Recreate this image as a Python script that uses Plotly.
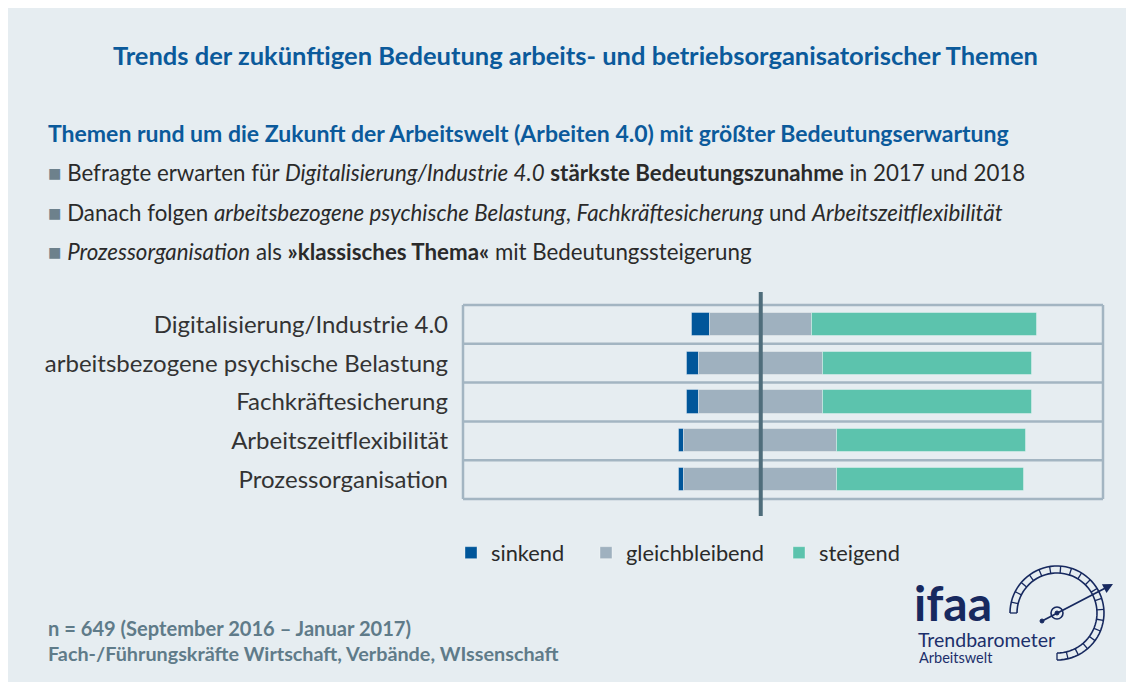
import numpy as np
import plotly.graph_objects as go

# ---------------- data ----------------
themen = [
    "Digitalisierung/Industrie 4.0",
    "arbeitsbezogene psychische Belastung",
    "Fachkräftesicherung",
    "Arbeitszeitflexibilität",
    "Prozessorganisation",
]
sinkend = [5.0, 3.6, 3.6, 1.6, 1.6]
gleichbleibend = [29.6, 35.8, 35.8, 44.3, 44.4]
steigend = [65.3, 60.6, 60.6, 54.6, 54.1]
serien = ["sinkend", "gleichbleibend", "steigend"]
farben = ["#00569a", "#9fb1bf", "#5cc3ad"]

# ---------------- geometry helpers (decoration only) ----------------
W, H = 1134, 682
OFF = 8  # page body margin compensation
L, R, T, B = 463, 1103, 305, 499
XMIN, XMAX = -86.3, 99.2


def px(x):
    return (x - L) / (R - L)


def py(y):
    return (B - y) / (B - T)


FONT = "Lato"
BG = "#e6edf1"

s = np.array(sinkend)
g = np.array(gleichbleibend)
t = np.array(steigend)
n = len(themen)
ypos = list(range(n))

fig = go.Figure()
bases = [-(s + g / 2), -g / 2, g / 2]
vals = [s, g, t]
legends = ["legend", "legend2", "legend3"]
for name, col, v, b, lg in zip(serien, farben, vals, bases, legends):
    fig.add_trace(go.Bar(
        y=ypos, x=v, base=b, orientation="h", name=name, legend=lg,
        marker=dict(color=col, line=dict(color="rgba(255,255,255,0.35)", width=1)),
        width=0.6,
    ))

shapes = []
# panel background (first so it lies beneath everything)
shapes.append(dict(type="rect", xref="paper", yref="paper", x0=px(0), x1=px(W + OFF), y0=py(11), y1=py(H + OFF),
                   fillcolor=BG, line=dict(width=0), layer="below"))
frame_col = "#a3b5c2"
for i in range(n + 1):
    shapes.append(dict(type="line", xref="paper", yref="paper", x0=0, x1=1,
                       y0=i / n, y1=i / n, line=dict(color=frame_col, width=2.5), layer="below"))
for xx in (0, 1):
    shapes.append(dict(type="line", xref="paper", yref="paper", x0=xx, x1=xx,
                       y0=0, y1=1, line=dict(color=frame_col, width=2.5), layer="below"))
# centre reference line at value 0
x_zero = (0 - XMIN) / (XMAX - XMIN)
shapes.append(dict(type="line", xref="paper", yref="paper", x0=x_zero, x1=x_zero, y0=py(292), y1=py(516),
                   line=dict(color="#4f6d7b", width=4), layer="above"))

# ---- logo gauge ----
navy = "#17295f"
cx, cy = 1057, 613
r_in, r_out = 40, 47
ang = np.radians(np.linspace(180, -90, 60))


def arc_path(r):
    pts = [(px(cx + r * np.cos(a)), py(cy - r * np.sin(a))) for a in ang]
    return "M " + " L ".join(f"{a:.5f},{b:.5f}" for a, b in pts)


for rr in (r_in, r_out):
    shapes.append(dict(type="path", xref="paper", yref="paper", path=arc_path(rr),
                       line=dict(color=navy, width=1.6)))
for a in np.radians(np.arange(180, -91, -13.5)):
    shapes.append(dict(type="line", xref="paper", yref="paper",
                       x0=px(cx + r_in * np.cos(a)), y0=py(cy - r_in * np.sin(a)),
                       x1=px(cx + r_out * np.cos(a)), y1=py(cy - r_out * np.sin(a)),
                       line=dict(color=navy, width=1.3)))
shapes.append(dict(type="circle", xref="paper", yref="paper",
                   x0=px(cx - 6), x1=px(cx + 6), y0=py(cy + 6), y1=py(cy - 6),
                   line=dict(color=navy, width=1.6)))
shapes.append(dict(type="circle", xref="paper", yref="paper",
                   x0=px(cx - 2), x1=px(cx + 2), y0=py(cy + 2), y1=py(cy - 2),
                   fillcolor=navy, line=dict(color=navy, width=1)))
shapes.append(dict(type="circle", xref="paper", yref="paper",
                   x0=px(1040), x1=px(1044), y0=py(623), y1=py(619),
                   fillcolor=navy, line=dict(color=navy, width=1)))

ann = []


def txt(text, x, y, size, color, xanchor="left", bold=False, yanchor="middle"):
    ann.append(dict(text=f"<b>{text}</b>" if bold else text, x=px(x), y=py(y), xref="paper", yref="paper",
                    showarrow=False, xanchor=xanchor, yanchor=yanchor,
                    font=dict(family=FONT, size=size, color=color)))


title_col = "#0b5a9b"
txt("Trends der zukünftigen Bedeutung arbeits- und betriebsorganisatorischer Themen", 575, 55, 25.5, title_col,
    xanchor="center", bold=True)
txt("Themen rund um die Zukunft der Arbeitswelt (Arbeiten 4.0) mit größter Bedeutungserwartung", 46, 133, 23.0,
    title_col, bold=True)
bul = "<span style='color:#6d818c'>■</span> "
txt(bul + "Befragte erwarten für <i>Digitalisierung/Industrie 4.0</i> <b>stärkste Bedeutungszunahme</b> in 2017 und 2018",
    46, 172, 22.3, "#2a2a2a")
txt(bul + "Danach folgen <i>arbeitsbezogene psychische Belastung</i>, <i>Fachkräftesicherung</i> und <i>Arbeitszeitflexibilität</i>",
    46, 212, 22.3, "#2a2a2a")
txt(bul + "<i>Prozessorganisation</i> als <b>»klassisches Thema«</b> mit Bedeutungssteigerung",
    46, 251, 22.3, "#2a2a2a")
foot_col = "#5f7b89"
txt("n = 649 (September 2016 – Januar 2017)", 46, 628, 20.1, foot_col, bold=True)
txt("Fach-/Führungskräfte Wirtschaft, Verbände, WIssenschaft", 46, 653, 19.8, foot_col, bold=True)

# logo text
txt("ifaa", 912, 602, 48, navy, bold=True)
txt("Trendbarometer", 916, 639, 19.5, "#1c2f6b")
txt("Arbeitswelt", 917, 657, 14.5, "#1c2f6b")
# needle
ann.append(dict(x=px(1113), y=py(584), xref="paper", yref="paper", ax=1042 - 1113, ay=621 - 584,
                text="", showarrow=True, arrowhead=2, arrowsize=1.1,
                arrowwidth=1.8, arrowcolor=navy))

leg_common = dict(orientation="h", yanchor="middle", xanchor="left", y=py(553),
                  font=dict(family=FONT, size=21.8, color="#2a2a2a"), bgcolor="rgba(0,0,0,0)")

fig.update_layout(
    width=W - OFF, height=H - OFF,
    margin=dict(l=L - OFF, r=W - R, t=T - OFF, b=H - B, pad=0),
    paper_bgcolor=BG,
    plot_bgcolor="rgba(0,0,0,0)",
    barmode="overlay",
    bargap=0,
    showlegend=True,
    legend=dict(x=px(451), **leg_common),
    legend2=dict(x=px(586), **leg_common),
    legend3=dict(x=px(779), **leg_common),
    xaxis=dict(range=[XMIN, XMAX], visible=False, fixedrange=True),
    yaxis=dict(range=[n - 0.5, -0.5], tickvals=ypos, ticktext=themen, showgrid=False,
               zeroline=False, ticks="", ticklabelstandoff=14,
               tickfont=dict(family=FONT, size=24, color="#333333")),
    shapes=shapes,
    annotations=ann,
    font=dict(family=FONT),
)

fig.write_html("out.html")
